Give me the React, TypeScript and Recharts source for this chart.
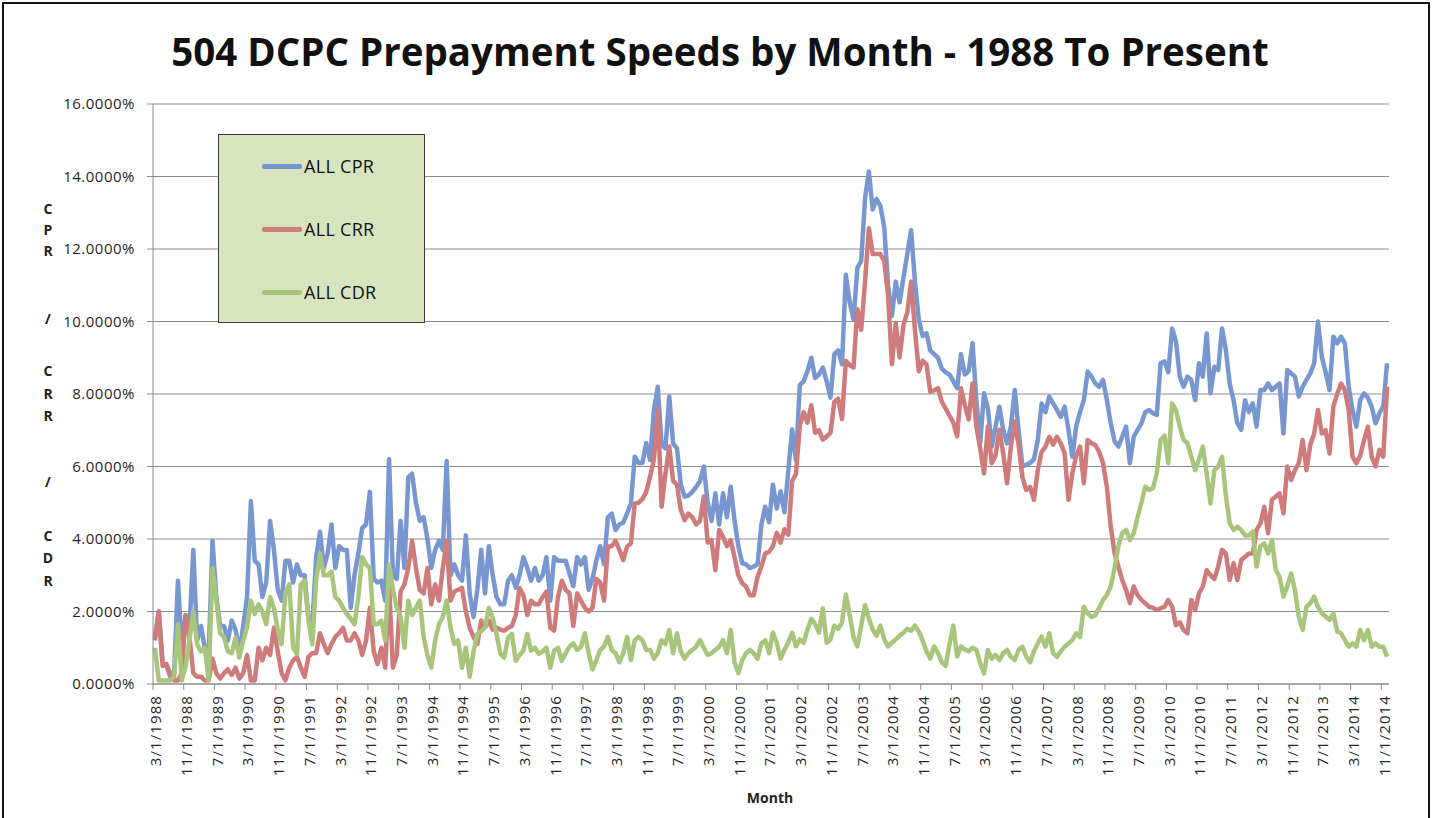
import React from 'react';
import { LineChart, Line, XAxis, YAxis, CartesianGrid, Legend } from 'recharts';

// Categories: monthly, 3/1/1988 .. 12/1/2014
const START_YEAR = 1988;
const START_MONTH = 3;
const MONTH_COUNT = 322;
const months: string[] = Array.from({ length: MONTH_COUNT }, (_, i) => {
  const k = START_MONTH - 1 + i;
  return `${(k % 12) + 1}/1/${START_YEAR + Math.floor(k / 12)}`;
});

const yTicks = [0, 2, 4, 6, 8, 10, 12, 14, 16];
const seriesOrder = ['ALL CPR', 'ALL CRR', 'ALL CDR'];

// ALL CPR (%)
const cprValues = [
  1.3, 2.0, 0.6, 0.5, 0.2, 0.3, 2.85, 1.0, 1.9, 1.5,
  3.7, 1.2, 1.6, 1.0, 0.8, 3.95, 2.4, 1.6, 1.6, 1.2,
  1.75, 1.5, 0.9, 1.6, 2.4, 5.05, 3.4, 3.3, 2.4, 2.8,
  4.5, 3.7, 2.6, 2.3, 3.4, 3.4, 2.8, 3.3, 3.0, 3.0,
  1.8, 1.6, 3.5, 4.2, 3.2, 3.6, 4.4, 3.2, 3.8, 3.7,
  3.7, 2.1, 3.0, 3.6, 4.3, 4.4, 5.3, 2.9, 2.8, 2.85,
  2.3, 6.2, 3.0, 2.9, 4.5, 3.2, 5.7, 5.8, 5.0, 4.5,
  4.6, 4.0, 3.2, 3.7, 3.95, 3.7, 6.15, 3.0, 3.3, 3.0,
  2.85, 4.1, 2.5, 1.85, 2.6, 3.7, 2.5, 3.8, 3.0, 2.4,
  2.2, 2.2, 2.85, 3.0, 2.65, 3.0, 3.5, 3.2, 2.85, 3.2,
  2.85, 3.0, 3.5, 2.3, 3.5, 3.4, 3.4, 3.4, 3.05, 2.7,
  3.5, 3.3, 3.5, 2.6, 2.9, 3.4, 3.8, 3.3, 4.6, 4.7,
  4.25, 4.4, 4.45, 4.7, 4.98, 6.27, 6.1, 6.1, 6.64, 6.18,
  7.56, 8.2, 6.6, 6.5, 7.93, 6.64, 6.5, 5.5, 5.17, 5.2,
  5.3, 5.44, 5.6, 6.0, 5.0, 4.5, 5.26, 4.4, 5.26, 4.6,
  5.44, 4.52, 3.8, 3.33, 3.3, 3.2, 3.24, 3.3, 4.4, 4.89,
  4.46, 5.5, 4.84, 5.31, 4.74, 5.88, 7.02, 6.17, 8.25, 8.35,
  8.63, 9.0, 8.44, 8.54, 8.73, 8.35, 7.9, 9.1, 9.2, 8.82,
  11.29, 10.53, 10.06, 11.48, 11.67, 13.4, 14.14, 13.09, 13.38, 13.19,
  12.6, 11.0, 10.15, 11.1, 10.53, 11.2, 11.86, 12.52, 11.1, 10.06,
  9.6, 9.68, 9.2, 9.1, 9.0, 8.7, 8.6, 8.54, 8.35, 8.16,
  9.1, 8.54, 8.63, 9.4, 7.83, 6.64, 8.02, 7.6, 6.55, 7.1,
  7.65, 7.01, 6.64, 7.1, 8.11, 7.0, 6.0, 6.05, 6.1, 6.2,
  6.73, 7.74, 7.5, 7.93, 7.74, 7.56, 7.37, 7.65, 7.01, 6.27,
  7.1, 7.5, 7.83, 8.62, 8.48, 8.29, 8.2, 8.39, 7.83, 7.2,
  6.7, 6.55, 6.82, 7.1, 6.09, 6.82, 7.01, 7.19, 7.5, 7.56,
  7.47, 7.42, 8.85, 8.9, 8.6, 9.81, 9.45, 8.48, 8.2, 8.48,
  8.39, 7.83, 8.85, 8.48, 9.67, 8.02, 8.75, 8.66, 9.81, 9.21,
  8.29, 7.83, 7.19, 7.01, 7.83, 7.5, 7.74, 7.1, 8.11, 8.11,
  8.29, 8.11, 8.2, 8.29, 6.91, 8.66, 8.57, 8.48, 7.93, 8.2,
  8.39, 8.57, 8.85, 10.0, 9.03, 8.6, 8.11, 9.58, 9.4, 9.58,
  9.4, 8.2, 7.56, 7.1, 7.83, 8.02, 7.9, 7.65, 7.19, 7.47,
  7.65, 8.85,
];

// ALL CRR (%)
const crrValues = [
  1.2, 2.0, 0.5, 0.55, 0.3, 0.1, 0.1, 0.3, 1.9, 1.3,
  0.3, 0.2, 0.2, 0.1, 0.1, 0.7, 0.3, 0.15, 0.3, 0.4,
  0.25, 0.45, 0.15, 0.3, 0.8, 0.1, 0.1, 1.0, 0.65, 1.0,
  0.8, 1.55, 0.9, 0.3, 0.1, 0.45, 0.65, 0.75, 0.45, 0.2,
  0.75, 0.85, 0.85, 1.4, 1.1, 0.85, 1.1, 1.3, 1.4, 1.55,
  1.2, 1.2, 1.4, 1.2, 0.8, 1.2, 2.1, 0.9, 0.55, 1.0,
  0.45, 2.75, 0.45, 0.8, 2.55, 2.75, 3.2, 3.95, 3.2, 2.6,
  2.5, 3.2, 2.2, 2.75, 2.3, 3.2, 3.95, 2.3, 2.55, 2.6,
  2.65, 2.0, 1.55, 1.3, 1.1, 1.75, 1.55, 1.75, 1.5, 1.55,
  1.5, 1.47, 1.55, 1.6, 1.9, 2.65, 2.45, 1.9, 2.3, 2.2,
  2.2, 2.4, 2.55, 1.55, 1.47, 2.4, 2.85, 2.6, 2.5, 1.6,
  2.5, 2.3, 2.1, 2.0, 2.1, 2.9, 2.8, 2.3, 3.79, 3.8,
  3.95, 3.7, 3.42, 3.79, 3.88, 4.98, 5.0, 5.1, 5.3, 5.72,
  6.2, 7.56, 4.89, 5.8, 6.55, 5.6, 5.5, 4.8, 4.52, 4.7,
  4.6, 4.4, 4.5, 5.17, 3.9, 3.97, 3.14, 4.25, 4.06, 3.8,
  3.97, 3.5, 3.0, 2.78, 2.69, 2.45, 2.45, 2.96, 3.24, 3.6,
  3.65, 3.8, 4.17, 3.9, 4.27, 4.12, 5.6, 5.79, 7.12, 7.5,
  7.21, 7.69, 6.93, 7.0, 6.74, 6.83, 6.93, 7.78, 7.87, 7.31,
  8.92, 8.8, 8.73, 10.34, 9.77, 11.1, 12.57, 11.86, 11.86, 11.86,
  11.67, 10.72, 8.82, 9.96, 9.01, 9.9, 10.25, 11.1, 9.77, 8.63,
  8.92, 8.82, 8.06, 8.1, 8.16, 7.78, 7.6, 7.4, 7.21, 6.83,
  8.16, 7.69, 7.3, 8.29, 7.1, 6.5, 5.81, 7.1, 6.09, 6.3,
  7.01, 6.36, 5.54, 6.55, 7.24, 6.6, 5.7, 5.35, 5.44, 5.08,
  5.9, 6.4, 6.55, 6.82, 6.6, 6.82, 6.64, 6.36, 5.08, 5.81,
  6.3, 6.55, 5.54, 6.73, 6.64, 6.59, 6.4, 6.09, 5.44, 4.34,
  3.61, 3.24, 2.87, 2.59, 2.23, 2.69, 2.45, 2.32, 2.23, 2.13,
  2.1, 2.04, 2.09, 2.13, 2.32, 2.13, 1.62, 1.7, 1.49, 1.4,
  2.32, 2.04, 2.5, 2.69, 3.14, 3.0, 2.9, 3.24, 3.7, 3.6,
  2.87, 3.33, 2.87, 3.42, 3.51, 3.6, 3.6, 4.25, 4.43, 4.89,
  4.16, 5.08, 5.17, 5.26, 4.71, 6.0, 5.63, 5.9, 6.09, 6.73,
  5.9, 6.6, 6.91, 7.56, 6.91, 7.0, 6.36, 7.65, 8.0, 8.29,
  8.11, 7.56, 6.27, 6.09, 6.3, 6.73, 7.1, 6.27, 6.0, 6.46,
  6.27, 8.2,
];

// ALL CDR (%)
const cdrValues = [
  1.0, 0.1, 0.1, 0.1, 0.1, 0.2, 1.65, 0.1, 0.5, 1.2,
  2.0, 1.1, 0.9, 1.0, 0.1, 3.2, 2.3, 1.4, 1.3, 0.9,
  0.85, 1.28, 0.73, 1.2, 1.56, 2.3, 1.93, 2.2, 2.0, 1.65,
  2.4, 2.1, 1.5, 1.1, 2.5, 2.75, 1.0, 0.83, 2.75, 2.85,
  1.75, 1.1, 2.85, 3.6, 3.0, 3.0, 3.1, 2.4, 2.3, 2.1,
  1.93, 1.8, 1.65, 2.4, 3.5, 3.3, 3.2, 1.65, 1.65, 1.75,
  1.2, 3.3, 2.6, 2.1, 1.85, 1.0, 2.3, 1.9, 2.1, 2.3,
  1.3, 0.8, 0.45, 1.2, 1.65, 1.85, 2.3, 1.56, 1.1, 1.2,
  0.45, 1.0, 0.2, 0.9, 1.38, 1.45, 1.56, 2.1, 1.83, 1.38,
  0.83, 0.73, 1.28, 1.38, 0.64, 0.8, 0.92, 1.38, 0.92, 1.0,
  0.83, 0.9, 1.0, 0.45, 0.92, 1.0, 0.64, 0.85, 1.03, 1.12,
  0.94, 1.03, 1.4, 0.85, 0.4, 0.66, 0.94, 1.03, 1.3, 0.94,
  0.85, 0.6, 0.85, 1.3, 0.66, 1.21, 1.3, 1.21, 0.94, 0.94,
  0.7, 0.85, 1.21, 1.1, 1.49, 0.85, 1.4, 0.9, 0.7, 0.85,
  0.94, 1.03, 1.21, 1.0, 0.8, 0.85, 0.94, 1.03, 1.21, 0.85,
  1.49, 0.6, 0.3, 0.66, 0.85, 0.94, 0.85, 0.7, 1.12, 1.21,
  0.85, 1.42, 1.14, 0.7, 0.95, 1.14, 1.42, 1.04, 1.23, 1.14,
  1.5, 1.8, 1.65, 1.42, 2.09, 1.14, 1.23, 1.61, 1.52, 1.7,
  2.47, 1.9, 1.3, 1.04, 1.61, 2.18, 1.8, 1.5, 1.33, 1.61,
  1.23, 1.04, 1.14, 1.23, 1.33, 1.42, 1.52, 1.47, 1.61, 1.45,
  1.2, 0.9, 0.7, 1.04, 0.85, 0.6, 0.5, 1.1, 1.61, 0.76,
  1.04, 0.95, 0.9, 1.0, 0.94, 0.57, 0.29, 0.94, 0.7, 0.8,
  0.66, 0.85, 0.94, 0.75, 0.66, 0.94, 1.03, 0.75, 0.6, 0.9,
  1.12, 1.31, 1.03, 1.4, 0.85, 0.75, 0.9, 1.03, 1.12, 1.21,
  1.4, 1.3, 2.13, 1.95, 1.85, 1.9, 2.1, 2.32, 2.45, 2.69,
  3.2, 3.8, 4.16, 4.25, 3.97, 4.16, 4.6, 5.0, 5.44, 5.35,
  5.4, 5.81, 6.73, 6.85, 6.09, 7.74, 7.56, 7.1, 6.73, 6.64,
  6.27, 5.9, 6.2, 6.55, 5.81, 4.98, 5.9, 6.0, 6.27, 5.2,
  4.43, 4.25, 4.34, 4.25, 4.1, 4.1, 4.2, 3.24, 3.8, 3.88,
  3.6, 3.97, 3.14, 2.96, 2.41, 2.7, 3.05, 2.59, 1.86, 1.49,
  2.13, 2.23, 2.41, 2.13, 1.95, 1.86, 1.77, 1.95, 1.45, 1.4,
  1.21, 1.03, 1.12, 1.03, 1.49, 1.21, 1.49, 1.03, 1.12, 1.03,
  1.03, 0.75,
];

const data = months.map((month, i) => ({
  month,
  cpr: cprValues[i],
  crr: crrValues[i],
  cdr: cdrValues[i],
}));

const FONT = '"Open Sans", "Noto Sans", sans-serif';
const GRID = '#8c8c8c';
const TEXT = '#262626';
const C_CPR = '#7897d0';
const C_CRR = '#d07b7b';
const C_CDR = '#a7c67c';

const XTick = (props: any) => {
  const { x, y, payload } = props;
  const tx = x - 1.92;
  return (
    <g>
      <line x1={tx} y1={y} x2={tx} y2={y + 6} stroke={GRID} strokeWidth={1} />
      <text
        x={x + 1}
        y={y + 11}
        transform={`rotate(-90, ${x + 1}, ${y + 11})`}
        textAnchor="end"
        dy="0.36em"
        fontSize={15}
        letterSpacing={1.1}
        fontFamily={FONT}
        fill={TEXT}
      >
        {payload.value}
      </text>
    </g>
  );
};

const LegendBox = (props: any) => {
  const items = [...(props.payload || [])].sort(
    (a: any, b: any) => seriesOrder.indexOf(a.value) - seriesOrder.indexOf(b.value)
  );
  return (
    <div
      style={{
        width: 207,
        height: 189,
        boxSizing: 'border-box',
        background: '#d7e4bd',
        border: '1.5px solid #3a3a3a',
        position: 'relative',
        fontFamily: FONT,
      }}
    >
      {items.map((entry: any, idx: number) => (
        <div
          key={entry.value}
          style={{ position: 'absolute', left: 43, top: 19 + idx * 63, height: 24, display: 'flex', alignItems: 'center' }}
        >
          <div style={{ width: 40, height: 5, background: entry.color, borderRadius: 2 }} />
          <span style={{ marginLeft: 2, fontSize: 18, color: '#111', whiteSpace: 'nowrap', letterSpacing: 0.3 }}>{entry.value}</span>
        </div>
      ))}
    </div>
  );
};

const yTitle: { ch: string; y: number }[] = [
  { ch: 'C', y: 208 }, { ch: 'P', y: 229 }, { ch: 'R', y: 250 },
  { ch: '/', y: 318 },
  { ch: 'C', y: 370 }, { ch: 'R', y: 393 }, { ch: 'R', y: 415 },
  { ch: '/', y: 481 },
  { ch: 'C', y: 535 }, { ch: 'D', y: 557 }, { ch: 'R', y: 580 },
];

export default function App() {
  return (
    <div style={{ position: 'absolute', left: 0, top: 0, width: 1437, height: 818, background: '#fff', overflow: 'hidden' }}>
      <div style={{ position: 'absolute', left: 2, top: 2, width: 1428, height: 860, border: '2px solid #111', boxSizing: 'border-box' }} />
      <svg width={1437} height={818} style={{ position: 'absolute', left: 0, top: 0 }}>
        <text x={720} y={66} textAnchor="middle" fontFamily={FONT} fontSize={38.5} fontWeight={700} fill="#111">
          504 DCPC Prepayment Speeds by Month - 1988 To Present
        </text>
        {yTitle.map((t, i) => (
          <text key={i} x={48} y={t.y} textAnchor="middle" dominantBaseline="central" fontFamily={FONT} fontSize={14} fontWeight={700} fill="#222">
            {t.ch}
          </text>
        ))}
        <text x={770} y={803} textAnchor="middle" fontFamily={FONT} fontSize={14} fontWeight={700} fill="#222">
          Month
        </text>
      </svg>
      <div style={{ position: 'absolute', left: 0, top: 0 }}>
        <LineChart width={1437} height={818} data={data} margin={{ top: 104, right: 48, bottom: 34, left: 53 }}>
          <CartesianGrid vertical={false} stroke={GRID} strokeWidth={1} />
          <XAxis
            dataKey="month"
            scale="band"
            interval={7}
            tick={<XTick />}
            tickLine={false}
            tickSize={0}
            tickMargin={0}
            axisLine={{ stroke: GRID }}
            height={100}
          />
          <YAxis
            domain={[0, 16]}
            ticks={yTicks}
            allowDataOverflow
            tickFormatter={(v: number) => `${v.toFixed(4)}%`}
            width={100}
            axisLine={{ stroke: GRID }}
            tickLine={{ stroke: GRID }}
            tickSize={6}
            tickMargin={12}
            tick={{ fill: TEXT, fontSize: 15, fontFamily: FONT, letterSpacing: 0.5 }}
          />
          <Legend
            layout="vertical"
            align="center"
            verticalAlign="middle"
            content={<LegendBox />}
            wrapperStyle={{ position: 'absolute', left: 218, top: 134, width: 207, height: 189 }}
          />
          <Line type="linear" dataKey="cpr" name="ALL CPR" stroke={C_CPR} strokeWidth={4.5} dot={false} strokeLinejoin="round" isAnimationActive={false} />
          <Line type="linear" dataKey="crr" name="ALL CRR" stroke={C_CRR} strokeWidth={4.5} dot={false} strokeLinejoin="round" isAnimationActive={false} />
          <Line type="linear" dataKey="cdr" name="ALL CDR" stroke={C_CDR} strokeWidth={4.5} dot={false} strokeLinejoin="round" isAnimationActive={false} />
        </LineChart>
      </div>
    </div>
  );
}
